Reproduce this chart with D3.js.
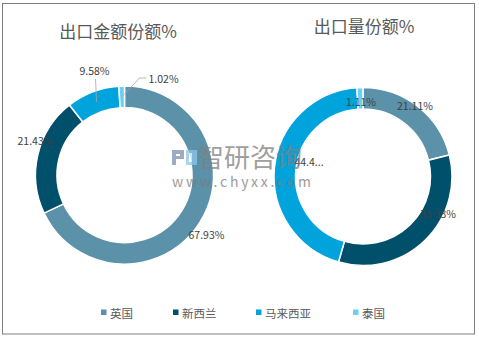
<!DOCTYPE html>
<html>
<head>
<meta charset="utf-8">
<script src="https://cdn.jsdelivr.net/npm/d3@7"></script>
<style>
  html, body { margin: 0; padding: 0; background: #fff; }
  svg { display: block; }
  text { font-family: "Microsoft YaHei", "Noto Sans CJK SC", "Liberation Sans", sans-serif; }
</style>
</head>
<body>
<svg id="chart" width="479" height="339"></svg>
<script>
// Countries (shared legend) and colours
const countries = ["英国", "新西兰", "马来西亚", "泰国"];
const colors = ["#5b91a9", "#00506c", "#00a3db", "#6ccff5"];

// Export value share (%)
const valueShare = [67.93, 21.43, 9.58, 1.02];
// Export volume share (%)
const volumeShare = [21.11, 33.33, 44.45, 1.11];

const titles = ["出口金额份额%", "出口量份额%"];
// Text shown on each slice label (one label is truncated on the volume donut)
const valueLabels = ["67.93%", "21.43%", "9.58%", "1.02%"];
const volumeLabels = ["21.11%", "33.33%", "44.4...", "1.11%"];

const svg = d3.select("#chart");
const W = 479, H = 339;

// outer frame
svg.append("rect")
  .attr("x", 2.5).attr("y", 3.5).attr("width", 472).attr("height", 330.5)
  .attr("fill", "#fff").attr("stroke", "#7f7f7f").attr("stroke-width", 1);

const color = d3.scaleOrdinal().domain(countries).range(colors);

const pie = d3.pie().sort(null).value(d => d.v);
const rOuter = 89, rInner = 67.5;
const arc = d3.arc().innerRadius(rInner).outerRadius(rOuter);

function donut(cx, cy, values, labels, title, titleX, titleY, labelPos) {
  const g = svg.append("g").attr("transform", `translate(${cx},${cy})`);
  const data = values.map((v, i) => ({ name: countries[i], v, label: labels[i] }));
  const arcs = pie(data);
  g.selectAll("path").data(arcs).join("path")
    .attr("d", arc)
    .attr("fill", d => color(d.data.name))
    .attr("stroke", "#fff").attr("stroke-width", 1.5);

  svg.append("text")
    .attr("x", titleX).attr("y", titleY)
    .attr("text-anchor", "middle")
    .attr("font-size", 17).attr("fill", "#595959")
    .text(title);

  arcs.forEach((a, i) => {
    const p = labelPos[i];
    const mid = (a.startAngle + a.endAngle) / 2;
    if (p.leader) {
      // leader line from the ring to the label
      const r = (rOuter + rInner) / 2;
      const sx = Math.sin(mid) * r, sy = -Math.cos(mid) * r;
      const pts = [[sx, sy]].concat(p.leader);
      g.append("polyline")
        .attr("points", pts.map(q => q.join(",")).join(" "))
        .attr("fill", "none").attr("stroke", "#a6a6a6").attr("stroke-width", 0.8);
    }
    g.append("text")
      .attr("x", p.x).attr("y", p.y)
      .attr("text-anchor", p.anchor || "middle")
      .attr("dominant-baseline", "central")
      .attr("font-size", 10.5).attr("fill", "#404040")
      .text(a.data.label);
  });
}

// value share donut
donut(124.5, 175, valueShare, valueLabels, titles[0], 118, 38, [
  { x: 82, y: 59 },
  { x: -89, y: -35 },
  { x: -30, y: -105, leader: [[-29, -96]] },
  { x: 24, y: -97, anchor: "start", leader: [[15, -97], [22, -97]] }
]);

// volume share donut
donut(363, 176.5, volumeShare, volumeLabels, titles[1], 364, 33, [
  { x: 52, y: -71 },
  { x: 75, y: 37 },
  { x: -54, y: -15 },
  { x: -2, y: -75 }
]);

// watermark
const wm = svg.append("g").attr("opacity", 0.75);
wm.append("rect").attr("x", 172).attr("y", 150).attr("width", 12).attr("height", 4).attr("fill", "#7f8fb0");
wm.append("rect").attr("x", 172).attr("y", 150).attr("width", 4).attr("height", 15).attr("fill", "#7f8fb0");
wm.append("rect").attr("x", 180).attr("y", 150).attr("width", 4).attr("height", 9).attr("fill", "#7f8fb0");
wm.append("rect").attr("x", 176).attr("y", 156).attr("width", 8).attr("height", 3).attr("fill", "#7f8fb0");
wm.append("rect").attr("x", 186).attr("y", 150).attr("width", 11).attr("height", 15).attr("fill", "#8ec8ea");
wm.append("rect").attr("x", 189).attr("y", 153).attr("width", 3).attr("height", 9).attr("fill", "#fff");
wm.append("text").attr("x", 198).attr("y", 167)
  .attr("font-size", 26).attr("fill", "#808080").text("智研咨询");
wm.append("text").attr("x", 172).attr("y", 187)
  .attr("font-size", 14).attr("letter-spacing", 2.8).attr("fill", "#7a7a7a")
  .attr("font-family", "Liberation Sans, sans-serif").text("www.chyxx.com");

// legend
const legendX = [101, 173, 256, 353];
const lg = svg.append("g");
countries.forEach((c, i) => {
  lg.append("rect").attr("x", legendX[i]).attr("y", 309.5).attr("width", 5.5).attr("height", 5.5)
    .attr("fill", color(c));
  lg.append("text").attr("x", legendX[i] + 9).attr("y", 312.5)
    .attr("dominant-baseline", "central")
    .attr("font-size", 11.5).attr("fill", "#595959").text(c);
});
</script>
</body>
</html>
